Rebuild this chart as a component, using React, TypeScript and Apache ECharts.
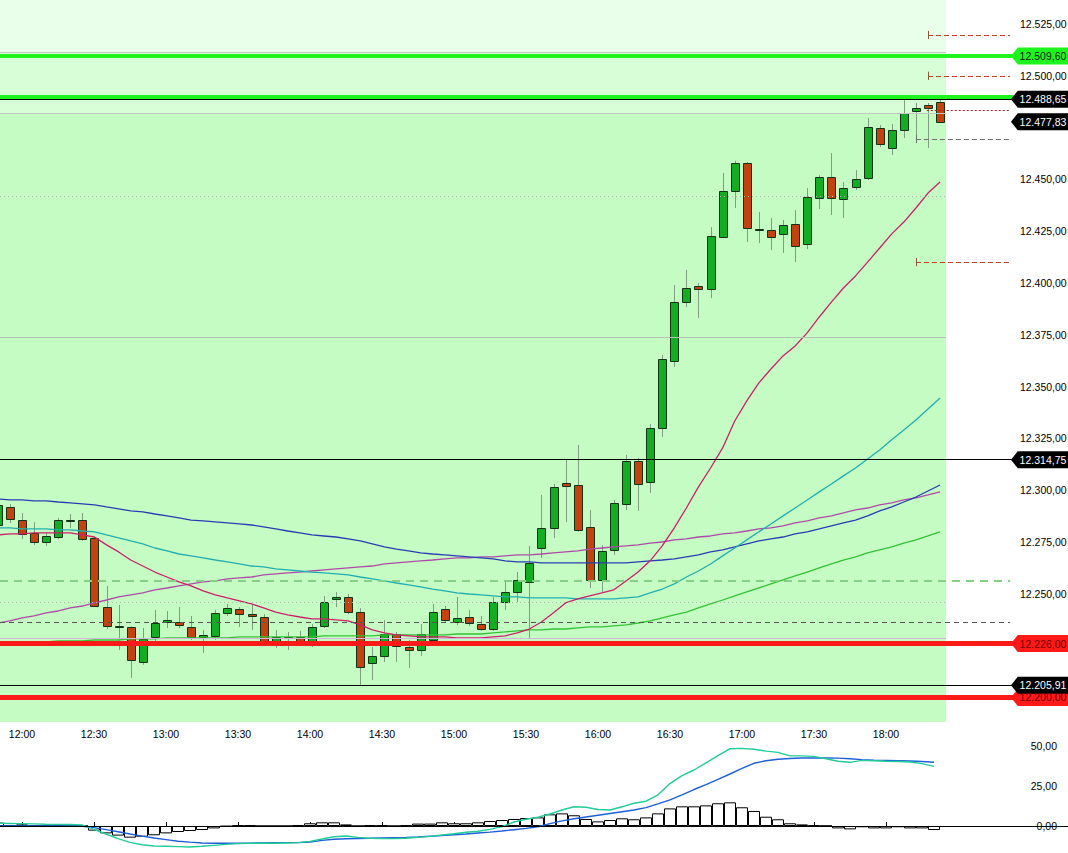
import { useEffect, useRef } from 'react';
import * as echarts from 'echarts';

// ---------- DATA ----------
const TIMES = [
  '11:50','11:55','12:00','12:05','12:10','12:15','12:20','12:25','12:30','12:35',
  '12:40','12:45','12:50','12:55','13:00','13:05','13:10','13:15','13:20','13:25',
  '13:30','13:35','13:40','13:45','13:50','13:55','14:00','14:05','14:10','14:15',
  '14:20','14:25','14:30','14:35','14:40','14:45','14:50','14:55','15:00','15:05',
  '15:10','15:15','15:20','15:25','15:30','15:35','15:40','15:45','15:50','15:55',
  '16:00','16:05','16:10','16:15','16:20','16:25','16:30','16:35','16:40','16:45',
  '16:50','16:55','17:00','17:05','17:10','17:15','17:20','17:25','17:30','17:35',
  '17:40','17:45','17:50','17:55','18:00','18:05','18:10','18:15','18:20',
];

const OPEN = [
  12283.2, 12291.9, 12285.6, 12279.3, 12275.0, 12277.4, 12285.1, 12285.6, 12276.9, 12243.6,
  12234.5, 12234.0, 12217.1, 12229.2, 12236.4, 12236.4, 12234.0, 12229.2, 12229.6, 12240.7,
  12242.7, 12240.2, 12238.8, 12226.3, 12229.2, 12229.2, 12226.3, 12234.5, 12247.5, 12248.5,
  12241.2, 12216.6, 12220.0, 12230.6, 12224.3, 12222.9, 12227.7, 12242.7, 12236.4, 12238.8,
  12235.4, 12233.0, 12246.0, 12250.9, 12255.7, 12272.1, 12281.8, 12303.5, 12302.5, 12282.2,
  12256.7, 12271.1, 12293.3, 12314.1, 12304.0, 12330.0, 12362.4, 12390.8, 12398.5, 12397.1,
  12422.2, 12444.4, 12457.9, 12426.1, 12425.6, 12423.6, 12428.5, 12418.8, 12441.0, 12451.2,
  12440.5, 12446.3, 12450.7, 12474.8, 12465.2, 12473.8, 12483.0, 12485.9, 12487.4,
];
const CLOSE = [
  12292.9, 12286.1, 12278.9, 12275.0, 12277.9, 12285.6, 12285.4, 12276.4, 12244.1, 12234.5,
  12234.2, 12218.1, 12228.2, 12235.9, 12237.3, 12234.9, 12229.2, 12230.1, 12240.7, 12243.1,
  12240.2, 12239.3, 12226.3, 12229.2, 12228.9, 12226.3, 12234.0, 12246.0, 12248.5, 12241.2,
  12214.7, 12220.0, 12230.6, 12224.8, 12222.9, 12230.6, 12241.2, 12237.3, 12238.3, 12235.9,
  12233.0, 12246.0, 12250.9, 12256.7, 12264.9, 12281.8, 12301.5, 12302.0, 12280.8, 12256.7,
  12270.7, 12293.8, 12314.1, 12303.0, 12330.0, 12363.3, 12390.8, 12397.6, 12397.1, 12422.7,
  12444.4, 12457.9, 12426.5, 12425.6, 12422.2, 12428.0, 12417.8, 12441.5, 12451.2, 12441.0,
  12445.8, 12450.2, 12475.3, 12467.1, 12473.8, 12482.0, 12484.5, 12484.5, 12477.83,
];
const LOW = [
  12281.0, 12284.2, 12276.4, 12273.5, 12273.1, 12276.4, 12281.8, 12275.5, 12243.6, 12233.0,
  12222.9, 12209.4, 12215.7, 12226.8, 12233.5, 12233.5, 12227.7, 12221.4, 12227.7, 12239.3,
  12234.0, 12232.5, 12225.3, 12223.8, 12222.9, 12224.8, 12224.3, 12233.5, 12243.6, 12240.2,
  12206.0, 12208.4, 12217.1, 12217.1, 12214.2, 12220.0, 12226.8, 12235.9, 12234.9, 12234.5,
  12232.1, 12232.1, 12242.2, 12246.0, 12228.2, 12267.3, 12276.9, 12284.6, 12279.9, 12252.8,
  12250.9, 12268.8, 12290.4, 12290.0, 12298.6, 12325.7, 12359.5, 12388.4, 12383.1, 12392.7,
  12421.7, 12436.2, 12419.8, 12419.3, 12415.9, 12414.5, 12410.1, 12416.4, 12435.7, 12432.8,
  12431.4, 12444.9, 12449.7, 12465.6, 12461.8, 12470.0, 12467.6, 12465.2, 12477.83,
];
const HIGH = [
  12295.0, 12293.3, 12289.0, 12284.6, 12279.3, 12286.6, 12288.5, 12289.0, 12277.4, 12253.8,
  12244.6, 12234.3, 12233.5, 12242.2, 12241.7, 12243.6, 12239.3, 12232.5, 12242.2, 12245.1,
  12243.6, 12244.6, 12240.2, 12232.5, 12231.6, 12232.1, 12235.4, 12248.9, 12250.9, 12249.9,
  12243.1, 12224.3, 12237.3, 12231.6, 12227.7, 12235.4, 12245.1, 12244.1, 12248.5, 12242.2,
  12239.3, 12248.5, 12256.7, 12260.5, 12273.1, 12297.7, 12303.0, 12314.6, 12321.8, 12290.4,
  12273.5, 12295.3, 12317.0, 12315.6, 12332.0, 12365.2, 12399.0, 12406.3, 12400.0, 12427.0,
  12453.1, 12459.0, 12458.4, 12434.3, 12431.4, 12430.4, 12435.2, 12445.8, 12452.0, 12462.7,
  12448.7, 12454.5, 12479.6, 12476.2, 12476.7, 12488.3, 12486.9, 12486.9, 12488.65,
];

const MA_FAST = [
  12278.4, 12278.9, 12278.9, 12279.4, 12279.4, 12279.4, 12279.4, 12278.4, 12277.4, 12273.6,
  12270.2, 12266.3, 12263.4, 12260.5, 12258.1, 12255.7, 12253.8, 12251.4, 12249.5, 12248.0,
  12246.6, 12245.1, 12243.2, 12241.2, 12239.8, 12238.8, 12237.9, 12237.9, 12237.4, 12236.9,
  12235.0, 12232.6, 12231.1, 12230.2, 12229.7, 12229.2, 12229.2, 12229.2, 12228.7, 12228.7,
  12228.7, 12229.2, 12229.7, 12231.1, 12233.0, 12236.4, 12240.8, 12245.6, 12247.5, 12249.0,
  12250.4, 12251.9, 12256.2, 12260.5, 12265.9, 12273.1, 12281.8, 12291.4, 12301.6, 12310.7,
  12320.4, 12333.4, 12343.1, 12351.8, 12358.5, 12364.8, 12369.6, 12375.9, 12383.6, 12390.8,
  12397.6, 12403.4, 12410.1, 12416.9, 12423.7, 12429.4, 12436.2, 12443.4, 12448.7,
];
const MA_TEAL = [
  12281.8, 12281.8, 12281.3, 12281.3, 12281.3, 12280.8, 12280.8, 12280.3, 12279.9, 12278.4,
  12277.0, 12275.5, 12274.1, 12272.1, 12270.7, 12269.2, 12268.3, 12267.3, 12266.3, 12265.4,
  12264.4, 12263.4, 12263.0, 12262.0, 12261.5, 12261.0, 12260.5, 12260.1, 12259.6, 12259.1,
  12258.1, 12257.2, 12256.2, 12255.2, 12254.3, 12253.3, 12252.3, 12251.4, 12250.4, 12249.9,
  12249.5, 12249.0, 12248.5, 12248.5, 12248.0, 12248.0, 12248.0, 12248.0, 12247.5, 12247.5,
  12247.5, 12247.5, 12248.0, 12248.5, 12250.4, 12252.3, 12254.8, 12258.1, 12261.0, 12264.4,
  12268.3, 12272.1, 12276.0, 12279.9, 12283.7, 12287.6, 12291.4, 12295.3, 12299.2, 12303.0,
  12306.9, 12310.7, 12315.1, 12319.4, 12324.3, 12329.1, 12333.9, 12339.2, 12344.5,
];
const MA_BLUE = [
  12295.8, 12295.3, 12295.3, 12294.8, 12294.8, 12294.3, 12293.9, 12293.4, 12292.9, 12291.9,
  12291.0, 12290.0, 12289.5, 12288.5, 12287.6, 12286.6, 12285.6, 12285.2, 12284.7, 12284.2,
  12283.7, 12283.2, 12282.3, 12281.3, 12280.3, 12279.4, 12278.4, 12277.9, 12277.4, 12276.5,
  12275.5, 12274.1, 12272.6, 12271.6, 12270.7, 12269.7, 12269.2, 12268.8, 12268.3, 12267.8,
  12267.3, 12266.8, 12265.9, 12265.4, 12265.4, 12264.9, 12264.9, 12264.9, 12264.9, 12264.9,
  12264.9, 12264.9, 12264.9, 12265.4, 12265.9, 12266.3, 12266.8, 12267.8, 12268.8, 12270.2,
  12271.2, 12272.6, 12274.1, 12275.5, 12276.5, 12277.4, 12278.9, 12279.9, 12281.3, 12282.8,
  12284.2, 12285.6, 12287.6, 12290.0, 12291.9, 12294.3, 12296.7, 12299.6, 12302.5,
];
const MA_PURPLE = [
  12235.9, 12236.9, 12238.4, 12239.3, 12240.8, 12241.7, 12243.2, 12244.1, 12245.6, 12247.0,
  12248.5, 12249.5, 12250.4, 12251.9, 12252.8, 12253.8, 12254.8, 12255.7, 12256.2, 12257.2,
  12257.7, 12258.1, 12259.1, 12259.6, 12260.1, 12260.5, 12261.0, 12261.5, 12262.0, 12262.5,
  12263.0, 12263.4, 12264.4, 12264.9, 12265.4, 12265.9, 12266.3, 12266.8, 12267.3, 12267.3,
  12267.8, 12267.8, 12268.3, 12268.8, 12268.8, 12269.2, 12269.7, 12270.2, 12270.7, 12271.6,
  12272.1, 12272.6, 12273.1, 12273.6, 12274.5, 12275.0, 12276.0, 12276.5, 12277.4, 12277.9,
  12278.9, 12279.4, 12280.3, 12281.3, 12281.8, 12282.8, 12284.2, 12285.2, 12286.6, 12287.6,
  12289.0, 12290.5, 12291.4, 12292.9, 12293.9, 12295.3, 12296.3, 12297.7, 12299.2,
];
const MA_GREEN = [
  12226.3, 12226.3, 12226.8, 12226.8, 12226.8, 12227.3, 12227.3, 12227.3, 12227.7, 12227.7,
  12227.7, 12228.2, 12228.2, 12228.2, 12228.7, 12228.7, 12228.7, 12228.7, 12228.7, 12228.7,
  12229.2, 12229.2, 12229.2, 12229.2, 12229.2, 12229.2, 12229.2, 12229.7, 12229.7, 12229.7,
  12229.7, 12229.7, 12230.2, 12230.2, 12230.2, 12230.2, 12230.2, 12230.2, 12230.6, 12230.6,
  12230.6, 12231.1, 12231.6, 12232.1, 12232.6, 12232.6, 12233.0, 12233.0, 12233.5, 12234.0,
  12234.0, 12234.5, 12235.0, 12235.9, 12236.9, 12238.4, 12239.8, 12241.2, 12243.2, 12245.1,
  12247.0, 12249.0, 12250.9, 12252.8, 12254.8, 12256.7, 12258.6, 12260.5, 12262.5, 12264.4,
  12266.3, 12267.8, 12269.7, 12271.2, 12272.6, 12274.5, 12276.0, 12277.9, 12279.9,
];

const HIST = [
  2.1, 0.3, 1.0, 0.3, 0.3, 0.3, 0.2, 0.0, -2.9, -4.6,
  -6.0, -7.3, -6.7, -5.8, -4.6, -3.75, -3.1, -2.5, -1.5, -0.3,
  0.4, 0.4, 0.0, 0.0, 0.0, 0.4, 1.7, 2.3, 2.3, 1.0,
  0.0, 0.4, 0.4, 0.0, 0.4, 1.5, 1.5, 2.3, 1.7, 1.7,
  2.3, 3.1, 3.75, 4.4, 5.0, 5.4, 7.3, 7.9, 6.7, 4.4,
  2.9, 3.75, 4.8, 4.2, 5.4, 7.9, 11.0, 12.3, 12.3, 12.9,
  14.2, 14.8, 11.7, 9.4, 5.8, 4.2, 1.7, 1.0, 0.4, 0.1,
  -1.5, -2.1, -0.8, -1.5, -1.5, -0.8, -1.5, -1.5, -2.5,
];
const IND_FAST = [
  1.7, 1.6, 1.5, 1.3, 1.1, 1.0, 0.9, 0.7, -2.1, -5.0,
  -7.9, -10.2, -11.7, -12.5, -12.7, -12.9, -13.1, -12.7, -12.1, -11.5,
  -11.0, -10.8, -10.8, -10.8, -10.6, -10.4, -9.6, -8.1, -6.7, -6.25,
  -7.1, -7.7, -7.9, -7.9, -7.7, -7.1, -6.5, -5.6, -4.8, -3.9,
  -3.3, -2.1, -0.4, 2.5, 4.2, 5.5, 7.5, 10.0, 12.0, 11.7,
  10.3, 10.0, 12.0, 14.2, 15.5, 19.5, 26.5, 31.5, 35.0, 39.5,
  44.0, 48.3, 48.5, 48.0, 46.8, 46.0, 43.8, 43.8, 43.5, 42.0,
  40.5, 39.8, 41.0, 40.8, 40.5, 40.3, 40.0, 39.0, 37.3,
];
const IND_SLOW = [
  0.0, 0.0, 0.0, 0.0, 0.0, 0.0, 0.0, -0.2, -1.0, -2.3,
  -3.6, -5.0, -6.3, -7.5, -8.5, -9.5, -10.1, -10.6, -10.8, -10.8,
  -10.7, -10.7, -10.6, -10.5, -10.4, -10.4, -10.0, -9.0, -8.3, -8.0,
  -7.8, -7.7, -7.5, -7.3, -7.1, -6.8, -6.4, -6.0, -5.5, -5.0,
  -4.4, -3.8, -3.1, -2.3, -1.5, -0.5, 1.5, 3.2, 4.5, 5.6,
  6.7, 7.8, 8.9, 10.0, 11.5, 13.8, 16.3, 19.5, 22.8, 25.8,
  29.2, 32.5, 36.0, 39.2, 40.8, 41.7, 42.2, 42.5, 42.5, 42.5,
  42.4, 42.0, 41.5, 41.2, 41.0, 40.8, 40.6, 40.3, 39.8,
];

const PRICE_TICKS = [12250, 12275, 12300, 12325, 12350, 12375, 12400, 12425, 12450, 12500, 12525];
const IND_TICKS = [0, 25, 50];
const TIME_TICKS = ['12:00','12:30','13:00','13:30','14:00','14:30','15:00','15:30','16:00','16:30','17:00','17:30','18:00'];

// level values
const ZONE_EDGES = [12511.4, 12482.0];
const GREEN_LEVELS = [12509.6, 12489.8];
const BLACK_LEVELS = [12488.65, 12314.75, 12205.91];
const RED_LEVELS = [12226.0, 12200.0];
const ORDER_LEVELS = [12519.7, 12500.0, 12410.1];
const STOP_LEVELS = [12469.5];
const LAST_DOT_LEVEL = [12483.5];
const DOTTED_LEVELS = [12442.1, 12246.1];
const GRAY_LEVELS = [12373.8];
const GREEN_DASH_LEVELS = [12256.2];
const DARK_DASH_LEVELS = [12236.4];
const LAVENDER_LEVELS = [12228.7];
const TAG_LEVELS = [12509.6, 12488.65, 12477.83, 12314.75, 12226.0, 12200.0, 12205.91];

// ---------- helpers ----------
const fmt = (v: number) => {
  const [a, b] = v.toFixed(2).split('.');
  return a.replace(/\B(?=(\d{3})+(?!\d))/g, '.') + ',' + b;
};

const FONT = 'Liberation Sans, Arial, sans-serif';
const Y_MIN = 12188.12;
const Y_MAX = 12536.58;
const X_MIN = 0.18;
const X_MAX = 88.59;
const X_GREEN_END = 78.5;
const X_LINE_END = 83.8;
const B_X_MIN = 0.1667;
const B_X_MAX = 89.1667;

function buildOption() {
  const idx = (t: string) => TIMES.indexOf(t);
  const timeTickIdx = TIME_TICKS.map(idx);

  const seg = (v: number, x1: number, x2: number, style: any) => [
    { coord: [x1, v], lineStyle: style },
    { coord: [x2, v] },
  ];
  const vtick = (x: number, v: number, color: string) => [
    { coord: [x, v - 2], lineStyle: { color, width: 1, type: 'solid' } },
    { coord: [x, v + 2] },
  ];

  const lines: any[] = [];
  ZONE_EDGES.forEach((v) => lines.push(seg(v, X_MIN, X_GREEN_END, { color: '#c4c8c4', width: 1, type: 'solid' })));
  GRAY_LEVELS.forEach((v) => lines.push(seg(v, X_MIN, X_GREEN_END, { color: '#b4c4b4', width: 1, type: 'solid' })));
  DOTTED_LEVELS.forEach((v) => lines.push(seg(v, X_MIN, X_GREEN_END, { color: '#a6baa6', width: 1, type: [1, 3] })));
  LAVENDER_LEVELS.forEach((v) => lines.push(seg(v, X_MIN, X_GREEN_END, { color: '#d6b4dc', width: 1, type: 'solid' })));
  GREEN_DASH_LEVELS.forEach((v) => lines.push(seg(v, X_MIN, X_LINE_END, { color: '#86cf86', width: 2, type: [8, 6] })));
  DARK_DASH_LEVELS.forEach((v) => lines.push(seg(v, X_MIN, X_LINE_END, { color: '#555555', width: 1, type: [5, 4] })));
  GREEN_LEVELS.forEach((v) => lines.push(seg(v, X_MIN, X_MAX, { color: '#1ef51e', width: 4, type: 'solid' })));
  RED_LEVELS.forEach((v) => lines.push(seg(v, X_MIN, X_MAX, { color: '#ff1a1a', width: 5, type: 'solid' })));
  BLACK_LEVELS.forEach((v) => lines.push(seg(v, X_MIN, X_MAX, { color: '#000000', width: 1, type: 'solid' })));
  ORDER_LEVELS.forEach((v, k) => {
    const start = k < 2 ? 77.0 : 76.0;
    lines.push(seg(v, start, X_LINE_END, { color: '#c8401a', width: 1, type: [5, 3] }));
    lines.push(vtick(start, v, '#8a5a3a'));
  });
  STOP_LEVELS.forEach((v) => {
    lines.push(seg(v, 76.0, X_LINE_END, { color: '#707070', width: 1, type: [5, 3] }));
    lines.push(vtick(76.0, v, '#707070'));
  });
  LAST_DOT_LEVEL.forEach((v) => lines.push(seg(v, 76.9, X_LINE_END, { color: '#b02020', width: 1, type: [2, 2] })));

  const tagStyle = (v: number) => {
    if (v === 12509.6) return { bg: '#1ef51e', fg: '#1a1a1a' };
    if (v === 12226.0 || v === 12200.0) return { bg: '#ff1a1a', fg: '#700000' };
    return { bg: '#000000', fg: '#ffffff' };
  };
  const tags = TAG_LEVELS.map((v) => {
    const s = tagStyle(v);
    return {
      coord: [86.27, v],
      value: v,
      symbol: 'path://M0,8.5 L7,0 L60,0 L60,17 L7,17 Z',
      symbolSize: [58, 17],
      itemStyle: { color: s.bg },
      label: {
        show: true,
        position: 'inside',
        offset: [3, 0],
        color: s.fg,
        fontSize: 10.5,
        fontFamily: FONT,
        formatter: () => fmt(v),
      },
    };
  });

  const bands = [
    [{ coord: [X_MIN, ZONE_EDGES[0]], itemStyle: { color: '#e9ffe9' } }, { coord: [X_GREEN_END, Y_MAX] }],
    [{ coord: [X_MIN, ZONE_EDGES[1]], itemStyle: { color: '#d7fed7' } }, { coord: [X_GREEN_END, ZONE_EDGES[0]] }],
    [{ coord: [X_MIN, Y_MIN], itemStyle: { color: '#c4fcc4' } }, { coord: [X_GREEN_END, ZONE_EDGES[1]] }],
  ];

  const candleData = OPEN.map((o, i) => [i, o, CLOSE[i], LOW[i], HIGH[i]]);
  const toXY = (arr: number[]) => arr.map((v, i) => [i, v]);

  const maLine = (name: string, data: number[], color: string, extra: any = {}) => ({
    name,
    type: 'line',
    xAxisIndex: 0,
    yAxisIndex: 0,
    data: toXY(data),
    showSymbol: false,
    symbol: 'none',
    lineStyle: { color, width: 1.3 },
    z: 3,
    silent: true,
    ...extra,
  });

  return {
    animation: false,
    textStyle: { fontFamily: FONT },
    grid: [
      { left: 0, top: 0, width: 1068, height: 722, outerBoundsMode: 'none', containLabel: false },
      { left: 0, top: 742, width: 1068, height: 111, outerBoundsMode: 'none', containLabel: false },
    ],
    xAxis: [
      {
        type: 'value', gridIndex: 0, min: X_MIN, max: X_MAX, show: false,
        splitLine: { show: false },
      },
      {
        type: 'value', gridIndex: 1, min: B_X_MIN, max: B_X_MAX, position: 'top',
        axisLine: { show: true, lineStyle: { color: '#000', width: 1 } },
        axisTick: { show: true, customValues: timeTickIdx, length: 4, inside: false, lineStyle: { color: '#000' } },
        axisLabel: {
          show: true, customValues: timeTickIdx, margin: 3, fontSize: 10.5, color: '#000', fontFamily: FONT,
          formatter: (v: number) => TIMES[Math.round(v)] ?? '',
        },
        splitLine: { show: false },
      },
    ],
    yAxis: [
      {
        type: 'value', gridIndex: 0, min: Y_MIN, max: Y_MAX, position: 'right', offset: -48,
        axisLine: { show: false }, axisTick: { show: false }, splitLine: { show: false },
        axisLabel: {
          show: true, customValues: PRICE_TICKS, margin: 0, fontSize: 10.5, color: '#000', align: 'left', fontFamily: FONT,
          formatter: (v: number) => fmt(v),
        },
      },
      {
        type: 'value', gridIndex: 1, min: -16.875, max: 52.5, position: 'right',
        axisLine: { show: false }, axisTick: { show: false }, splitLine: { show: false },
        axisLabel: {
          show: true, customValues: IND_TICKS, inside: true, margin: 11, fontSize: 10.5, color: '#000', fontFamily: FONT,
          formatter: (v: number) => fmt(v),
        },
      },
    ],
    series: [
      {
        name: 'candles',
        type: 'custom',
        xAxisIndex: 0,
        yAxisIndex: 0,
        data: candleData,
        dimensions: ['i', 'open', 'close', 'low', 'high'],
        encode: { x: 0, y: [1, 2, 3, 4] },
        z: 2,
        silent: true,
        renderItem: (params: any, api: any) => {
          const i = api.value(0);
          const o = api.value(1);
          const c = api.value(2);
          const l = api.value(3);
          const h = api.value(4);
          const pO = api.coord([i, o]);
          const pC = api.coord([i, c]);
          const pL = api.coord([i, l]);
          const pH = api.coord([i, h]);
          const cx = Math.round(pO[0]);
          const top = Math.round(Math.min(pO[1], pC[1]));
          const bot = Math.round(Math.max(pO[1], pC[1]));
          const up = c >= o;
          return {
            type: 'group',
            children: [
              {
                type: 'line',
                shape: { x1: cx + 0.5, y1: pH[1], x2: cx + 0.5, y2: pL[1] },
                style: { stroke: '#7f9e7f', lineWidth: 1 },
              },
              {
                type: 'rect',
                shape: { x: cx - 3.5, y: top + 0.5, width: 8, height: Math.max(bot - top, 1) },
                style: { fill: up ? '#12ad22' : '#c4420e', stroke: '#163216', lineWidth: 1 },
              },
            ],
          };
        },
      },
      maLine('ma-green', MA_GREEN, '#34c234', {
        markArea: { silent: true, z: 1, data: bands },
        markLine: { silent: true, z: 5, symbol: ['none', 'none'], label: { show: false }, emphasis: { disabled: true }, data: lines },
        markPoint: { silent: true, z: 6, data: tags },
      }),
      maLine('ma-purple', MA_PURPLE, '#b04aa8'),
      maLine('ma-blue', MA_BLUE, '#2a3cb4'),
      maLine('ma-teal', MA_TEAL, '#22aeb0'),
      maLine('ma-fast', MA_FAST, '#cc2068'),
      {
        name: 'hist',
        type: 'bar',
        xAxisIndex: 1,
        yAxisIndex: 1,
        data: toXY(HIST),
        barWidth: 12,
        itemStyle: { color: '#ffffff', borderColor: '#000000', borderWidth: 1 },
        silent: true,
        z: 2,
        markLine: {
          silent: true, symbol: ['none', 'none'], label: { show: false },
          data: [[{ coord: [B_X_MIN, 0], lineStyle: { color: '#000', width: 1, type: 'solid' } }, { coord: [78.3, 0] }]],
        },
      },
      {
        name: 'ind-slow', type: 'line', xAxisIndex: 1, yAxisIndex: 1, data: toXY(IND_SLOW),
        showSymbol: false, symbol: 'none', lineStyle: { color: '#1e5fd8', width: 1.4 }, z: 3, silent: true,
      },
      {
        name: 'ind-fast', type: 'line', xAxisIndex: 1, yAxisIndex: 1, data: toXY(IND_FAST),
        showSymbol: false, symbol: 'none', lineStyle: { color: '#22cc98', width: 1.4 }, z: 3, silent: true,
      },
    ],
  };
}

export default function App() {
  const ref = useRef<HTMLDivElement>(null);
  useEffect(() => {
    const chart = echarts.init(ref.current!, null, { renderer: 'svg' });
    chart.setOption(buildOption() as any);
    return () => chart.dispose();
  }, []);
  return (
    <div
      ref={ref}
      style={{ position: 'fixed', left: 0, top: 0, width: 1068, height: 853, background: '#ffffff' }}
    />
  );
}
